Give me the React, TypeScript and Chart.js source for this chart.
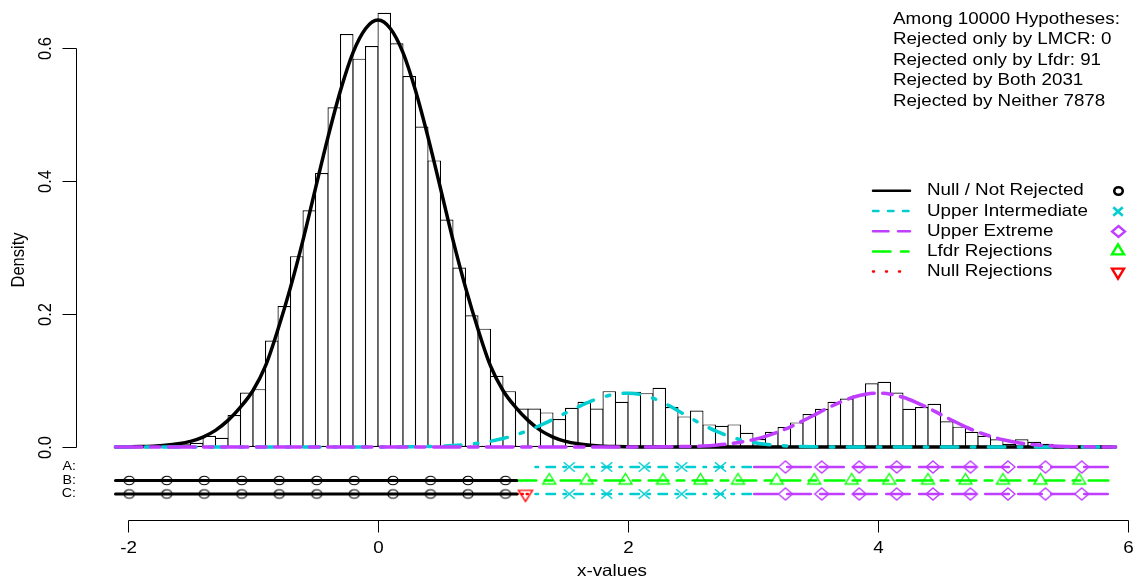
import React, { useEffect, useRef } from "react";
import { Chart, registerables } from "chart.js";

Chart.register(...registerables);

// ---------------- data ----------------
// histogram on the density scale, bins of width 0.1 starting at -2.0
const binStart = -2.0;
const binWidth = 0.1;
const histDensity = [
  0, 0.001, 0.003, 0.003, 0.004, 0.0065, 0.017, 0.014, 0.048, 0.082,
  0.087, 0.16, 0.212, 0.287, 0.356, 0.412, 0.511, 0.621, 0.584, 0.603,
  0.653, 0.607, 0.558, 0.482, 0.431, 0.342, 0.27, 0.198, 0.178, 0.107,
  0.084, 0.058, 0.058, 0.052, 0.042, 0.059, 0.068, 0.058, 0.084, 0.068,
  0.083, 0.081, 0.089, 0.06, 0.046, 0.055, 0.034, 0.032, 0.034, 0.0215,
  0.012, 0.023, 0.03, 0.037, 0.0496, 0.0576, 0.068, 0.073, 0.078, 0.0957,
  0.098, 0.082, 0.0576, 0.06, 0.065, 0.0386, 0.0306, 0.023, 0.017, 0.0115,
  0.005, 0.0115, 0.008, 0.005, 0.003, 0.001,
];

// density curves read at these x values
const curveX = [
  -2.1, -2.0, -1.9, -1.8, -1.7, -1.6, -1.5, -1.4, -1.3, -1.2,
  -1.1, -1.0, -0.9, -0.8, -0.7, -0.6, -0.5, -0.4, -0.3, -0.2,
  -0.1, 0.0, 0.1, 0.2, 0.3, 0.4, 0.5, 0.6, 0.7, 0.8,
  0.9, 1.0, 1.1, 1.2, 1.3, 1.4, 1.5, 1.6, 1.7, 1.8,
  1.9, 2.0, 2.1, 2.2, 2.3, 2.4, 2.5, 2.6, 2.7, 2.8,
  2.9, 3.0, 3.1, 3.2, 3.3, 3.4, 3.5, 3.6, 3.7, 3.8,
  3.9, 4.0, 4.1, 4.2, 4.3, 4.4, 4.5, 4.6, 4.7, 4.8,
  4.9, 5.0, 5.1, 5.2, 5.3, 5.4, 5.5, 5.6, 5.7, 5.8,
  5.9,
];
const nullDensity = [
  0.0001, 0.0003, 0.0006, 0.0013, 0.0026, 0.0048, 0.0085, 0.015, 0.025, 0.04,
  0.06, 0.085, 0.122, 0.177, 0.24, 0.311, 0.389, 0.466, 0.536, 0.593,
  0.629, 0.642, 0.629, 0.593, 0.536, 0.466, 0.389, 0.311, 0.24, 0.177,
  0.122, 0.085, 0.06, 0.04, 0.025, 0.015, 0.0085, 0.0048, 0.0026, 0.0013,
  0.0006, 0.0003, 0.0001, 0, 0, 0, 0, 0, 0, 0,
  0, 0, 0, 0, 0, 0, 0, 0, 0, 0,
  0, 0, 0, 0, 0, 0, 0, 0, 0, 0,
  0, 0, 0, 0, 0, 0, 0, 0, 0, 0,
  0,
];
const upperInterDensity = [
  0, 0, 0, 0, 0, 0, 0, 0, 0, 0,
  0, 0, 0, 0, 0, 0, 0, 0, 0, 0,
  0, 0.0001, 0.0001, 0.0002, 0.0004, 0.0007, 0.0013, 0.0022, 0.0036, 0.0056,
  0.0086, 0.0127, 0.0181, 0.0248, 0.0327, 0.0416, 0.051, 0.0602, 0.0686, 0.0752,
  0.0795, 0.081, 0.079, 0.0734, 0.0649, 0.0546, 0.0437, 0.0333, 0.0241, 0.0167,
  0.011, 0.0069, 0.0041, 0.0023, 0.0012, 0.0006, 0.0003, 0.0001, 0, 0,
  0, 0, 0, 0, 0, 0, 0, 0, 0, 0,
  0, 0, 0, 0, 0, 0, 0, 0, 0, 0,
  0,
];
const upperExtremeDensity = [
  0, 0, 0, 0, 0, 0, 0, 0, 0, 0,
  0, 0, 0, 0, 0, 0, 0, 0, 0, 0,
  0, 0, 0, 0, 0, 0, 0, 0, 0, 0,
  0, 0, 0, 0, 0, 0, 0, 0, 0, 0,
  0, 0, 0.0001, 0.0001, 0.0002, 0.0005, 0.0009, 0.0016, 0.0028, 0.0045,
  0.0072, 0.011, 0.016, 0.0225, 0.0304, 0.0394, 0.0491, 0.0588, 0.0676, 0.0748,
  0.0794, 0.081, 0.0794, 0.0748, 0.0676, 0.0588, 0.0491, 0.0394, 0.0304, 0.0225,
  0.016, 0.011, 0.0072, 0.0045, 0.0028, 0.0016, 0.0009, 0.0005, 0.0002, 0.0001,
  0.0001,
];

// classification strips (A, B, C): marker positions and segment extents
const nullMarkX = [-1.99, -1.69, -1.39, -1.09, -0.79, -0.49, -0.19, 0.12, 0.42, 0.72, 1.02];
const interMarkX = [1.53, 1.83, 2.13, 2.43, 2.74];
const extremeMarkX = [3.26, 3.55, 3.85, 4.15, 4.44, 4.74, 5.04, 5.34, 5.63];
const lfdrMarkX = [1.37, 1.67, 1.98, 2.28, 2.58, 2.88, 3.19, 3.49, 3.79, 4.09, 4.4, 4.7, 5.0, 5.3, 5.61];
const nullRejMarkX = [1.18];

const nullSpan = [-2.1, 1.11];
const lfdrSpan = [1.11, 5.87];
const nullRejSpan = [1.11, 1.2];
const interSpan = [1.26, 3.01];
const extremeSpan = [3.01, 5.87];

// axes / texts
const xTicks = [-2, 0, 2, 4, 6];
const xTickLabels = ["-2", "0", "2", "4", "6"];
const yTicks = [0, 0.2, 0.4, 0.6];
const yTickLabels = ["0.0", "0.2", "0.4", "0.6"];
const xTitle = "x-values";
const yTitle = "Density";
const rowLabels = ["A:", "B:", "C:"];
const summaryLines = [
  "Among 10000 Hypotheses:",
  "Rejected only by LMCR: 0",
  "Rejected only by Lfdr: 91",
  "Rejected by Both 2031",
  "Rejected by Neither 7878",
];
const legendLabels = [
  "Null / Not Rejected",
  "Upper Intermediate",
  "Upper Extreme",
  "Lfdr Rejections",
  "Null Rejections",
];

// ---------------- layout / style ----------------
const W = 1137;
const H = 580;
const PX_PER_X = 125;
const XM2_PX = 128; // pixel of x = -2
const X_MIN = -2 - XM2_PX / PX_PER_X;
const X_MAX = X_MIN + W / PX_PER_X;
const PX_PER_Y = 665;
const Y0_PX = 447;
const Y_MAX = Y0_PX / PX_PER_Y;
const Y_MIN = -(H - Y0_PX) / PX_PER_Y;
const ROW_Y = [-(467 - Y0_PX) / PX_PER_Y, -(480.5 - Y0_PX) / PX_PER_Y, -(494 - Y0_PX) / PX_PER_Y];

const C_NULL = "#000000";
const C_INTER = "#00CED1";
const C_EXT = "#BF3EFF";
const C_LFDR = "#00FF00";
const C_REJ = "#FF0000";
const SX = 1.14;
const FONT = '"Liberation Sans", Arial, Helvetica, sans-serif';
const FS = 16.5;

type Shape = "circle" | "cross" | "diamond" | "triUp" | "triDown";

function makeMarker(shape: Shape, color: string, w: number, h: number, lw: number): HTMLCanvasElement {
  const pad = Math.ceil(lw) + 1;
  const halfH = shape === "triUp" || shape === "triDown" ? (2 * h) / 3 : h / 2;
  const c = document.createElement("canvas");
  c.width = Math.ceil(w + 2 * pad);
  c.height = Math.ceil(2 * halfH + 2 * pad);
  const g = c.getContext("2d")!;
  g.strokeStyle = color;
  g.lineWidth = lw;
  g.lineJoin = "miter";
  const cx = c.width / 2;
  const cy = c.height / 2;
  g.beginPath();
  if (shape === "circle") {
    g.ellipse(cx, cy, w / 2, h / 2, 0, 0, Math.PI * 2);
  } else if (shape === "cross") {
    g.moveTo(cx - w / 2, cy - h / 2);
    g.lineTo(cx + w / 2, cy + h / 2);
    g.moveTo(cx - w / 2, cy + h / 2);
    g.lineTo(cx + w / 2, cy - h / 2);
  } else if (shape === "diamond") {
    g.moveTo(cx, cy - h / 2);
    g.lineTo(cx + w / 2, cy);
    g.lineTo(cx, cy + h / 2);
    g.lineTo(cx - w / 2, cy);
    g.closePath();
  } else if (shape === "triUp") {
    g.moveTo(cx, cy - (2 * h) / 3);
    g.lineTo(cx + w / 2, cy + h / 3);
    g.lineTo(cx - w / 2, cy + h / 3);
    g.closePath();
  } else {
    g.moveTo(cx - w / 2, cy - h / 3);
    g.lineTo(cx + w / 2, cy - h / 3);
    g.lineTo(cx, cy + (2 * h) / 3);
    g.closePath();
  }
  g.stroke();
  return c;
}

const pts = (xs: number[], ys: number[]) => xs.map((x, i) => ({ x, y: ys[i] }));
const flat = (xs: number[], y: number) => xs.map((x) => ({ x, y }));

export default function App() {
  const ref = useRef<HTMLCanvasElement | null>(null);

  useEffect(() => {
    const canvas = ref.current;
    if (!canvas) return;

    const mk = {
      circle: makeMarker("circle", C_NULL, 10, 8.5, 1.2),
      cross: makeMarker("cross", C_INTER, 11, 9.5, 1.5),
      diamond: makeMarker("diamond", C_EXT, 14, 12, 1.4),
      triUp: makeMarker("triUp", C_LFDR, 13, 10.5, 1.4),
      triDown: makeMarker("triDown", C_REJ, 14, 11, 1.4),
    };
    const lg = {
      circle: makeMarker("circle", C_NULL, 8.5, 7.5, 2.6),
      cross: makeMarker("cross", C_INTER, 9.5, 8.5, 2.6),
      diamond: makeMarker("diamond", C_EXT, 13, 11, 2.3),
      triUp: makeMarker("triUp", C_LFDR, 12, 10, 2.4),
      triDown: makeMarker("triDown", C_REJ, 12, 10, 2.4),
    };

    const curve = (ys: number[], color: string, dash: number[], order: number) => ({
      type: "line" as const,
      data: pts(curveX, ys),
      borderColor: color,
      borderWidth: 3.5,
      borderDash: dash,
      borderCapStyle: "round" as const,
      pointRadius: 0,
      fill: false,
      cubicInterpolationMode: "monotone" as const,
      order,
    });
    const seg = (span: number[], y: number, color: string, dash: number[], w = 2.6) => ({
      type: "line" as const,
      data: flat(span, y),
      borderColor: color,
      borderWidth: w,
      borderDash: dash,
      borderCapStyle: "round" as const,
      pointRadius: 0,
      fill: false,
      order: 3,
    });
    const marks = (xs: number[], y: number, img: HTMLCanvasElement) => ({
      type: "scatter" as const,
      data: flat(xs, y),
      pointStyle: img,
      pointRadius: 6,
      showLine: false,
      order: 1,
    });

    const [rA, rB, rC] = ROW_Y;
    const dInter = [2.5, 8.5, 8.5, 8.5];
    const dExt = [23.5, 9.5];
    const dLfdr = [19.5, 8.5, 7.5, 8.5];
    const dRej = [1, 4];

    const datasets: any[] = [
      {
        type: "bar",
        data: histDensity.map((d, i) => ({ x: binStart + binWidth * (i + 0.5), y: d })),
        backgroundColor: "#ffffff",
        borderColor: "#000000",
        borderWidth: 1.2,
        borderSkipped: false,
        barPercentage: 1.08,
        categoryPercentage: 1,
        order: 10,
      },
      curve(nullDensity, C_NULL, [], 9),
      curve(upperInterDensity, C_INTER, [16.5, 13.5, 3.5, 13.5], 8),
      curve(upperExtremeDensity, C_EXT, [26.5, 8.5, 9.5, 8.5], 7),
      // row A
      seg(interSpan, rA, C_INTER, dInter),
      seg(extremeSpan, rA, C_EXT, dExt),
      marks(interMarkX, rA, mk.cross),
      marks(extremeMarkX, rA, mk.diamond),
      // row B
      seg(nullSpan, rB, C_NULL, [], 3),
      seg(lfdrSpan, rB, C_LFDR, dLfdr),
      marks(nullMarkX, rB, mk.circle),
      marks(lfdrMarkX, rB, mk.triUp),
      // row C
      seg(nullSpan, rC, C_NULL, [], 3),
      seg(nullRejSpan, rC, C_REJ, dRej),
      seg(interSpan, rC, C_INTER, dInter),
      seg(extremeSpan, rC, C_EXT, dExt),
      marks(nullMarkX, rC, mk.circle),
      marks(nullRejMarkX, rC, mk.triDown),
      marks(interMarkX, rC, mk.cross),
      marks(extremeMarkX, rC, mk.diamond),
    ];

    const legendStyle = [
      { color: C_NULL, dash: [] as number[], img: lg.circle },
      { color: C_INTER, dash: [5.5, 9.5], img: lg.cross },
      { color: C_EXT, dash: [15.5, 9.5], img: lg.diamond },
      { color: C_LFDR, dash: [17.5, 10.5, 7.5, 10.5], img: lg.triUp },
      { color: C_REJ, dash: [1, 12], img: lg.triDown },
    ];

    const decor = {
      id: "decor",
      afterDraw(chart: any) {
        const ctx: CanvasRenderingContext2D = chart.ctx;
        const xs = chart.scales.x;
        const ys = chart.scales.y;
        const txt = (s: string, x: number, y: number, align: CanvasTextAlign, size: number, rot = false) => {
          ctx.save();
          ctx.translate(x, y);
          ctx.scale(SX, 1);
          if (rot) ctx.rotate(-Math.PI / 2);
          ctx.font = `${size}px ${FONT}`;
          ctx.fillStyle = "#000";
          ctx.textAlign = align;
          ctx.textBaseline = "middle";
          ctx.fillText(s, 0, 0);
          ctx.restore();
        };
        const line = (x1: number, y1: number, x2: number, y2: number) => {
          ctx.beginPath();
          ctx.moveTo(x1, y1);
          ctx.lineTo(x2, y2);
          ctx.stroke();
        };
        ctx.save();
        ctx.strokeStyle = "#000";
        ctx.lineWidth = 1;
        ctx.setLineDash([]);
        ctx.lineCap = "butt";

        // y axis
        const yAxisX = 76.5;
        const yTop = Math.round(ys.getPixelForValue(yTicks[yTicks.length - 1])) + 0.5;
        const yBot = Math.round(ys.getPixelForValue(yTicks[0])) + 0.5;
        line(yAxisX, yTop, yAxisX, yBot);
        yTicks.forEach((v, i) => {
          const py = Math.round(ys.getPixelForValue(v)) + 0.5;
          line(yAxisX - 14, py, yAxisX, py);
          txt(yTickLabels[i], 46, py, "center", FS, true);
        });
        txt(yTitle, 19, 260, "center", FS, true);

        // x axis
        const xAxisY = 520.5;
        const xL = Math.round(xs.getPixelForValue(xTicks[0])) + 0.5;
        const xR = Math.round(xs.getPixelForValue(xTicks[xTicks.length - 1])) + 0.5;
        line(xL, xAxisY, xR, xAxisY);
        xTicks.forEach((v, i) => {
          const px = Math.round(xs.getPixelForValue(v)) + 0.5;
          line(px, xAxisY, px, xAxisY + 12);
          txt(xTickLabels[i], px, 548, "center", FS);
        });
        txt(xTitle, 612, 571, "center", FS);

        // strip labels
        ROW_Y.forEach((v, i) => {
          txt(rowLabels[i], 76, ys.getPixelForValue(v), "right", 12.5);
        });

        // summary text
        summaryLines.forEach((s, i) => txt(s, 893, 19 + i * 20.5, "left", FS));

        // legend
        const legY = [190.7, 211.1, 231.3, 251.4, 271.6];
        legendStyle.forEach((st, i) => {
          const y = legY[i];
          ctx.save();
          ctx.strokeStyle = st.color;
          ctx.lineWidth = 2.5;
          ctx.lineCap = "round";
          ctx.setLineDash(st.dash);
          line(873, y, 910, y);
          ctx.restore();
          txt(legendLabels[i], 927, y, "left", FS);
          ctx.drawImage(st.img, Math.round(1118 - st.img.width / 2), Math.round(y - st.img.height / 2));
        });
        ctx.restore();
      },
    };

    const chart = new Chart(canvas, {
      type: "scatter",
      data: { datasets },
      options: {
        responsive: false,
        maintainAspectRatio: false,
        devicePixelRatio: 1,
        animation: false,
        events: [],
        layout: { padding: 0, autoPadding: false },
        plugins: { legend: { display: false }, tooltip: { enabled: false } },
        scales: {
          x: {
            type: "linear",
            min: X_MIN,
            max: X_MAX,
            display: false,
            offset: false,
            afterBuildTicks: (s: any) => {
              s.ticks = xTicks.map((v) => ({ value: v }));
            },
          },
          y: {
            type: "linear",
            min: Y_MIN,
            max: Y_MAX,
            display: false,
            afterBuildTicks: (s: any) => {
              s.ticks = yTicks.map((v) => ({ value: v }));
            },
          },
        },
      } as any,
      plugins: [decor],
    });
    return () => chart.destroy();
  }, []);

  return (
    <div style={{ position: "absolute", left: 0, top: 0, width: W, height: H, background: "#fff" }}>
      <canvas ref={ref} width={W} height={H} style={{ display: "block" }} />
    </div>
  );
}
